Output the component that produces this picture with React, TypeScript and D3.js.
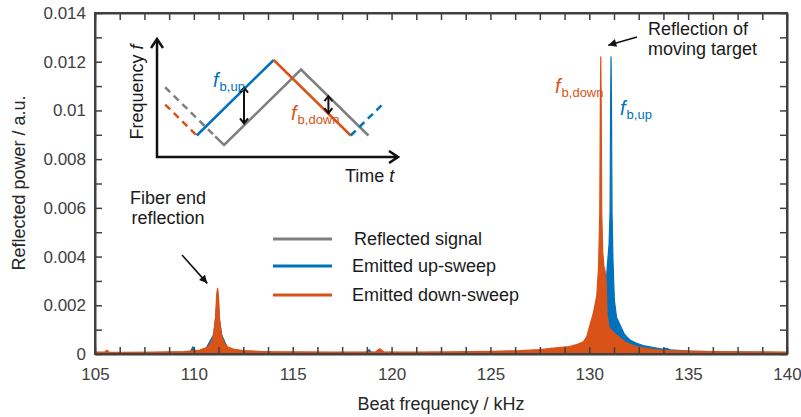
import React, { useEffect, useRef } from 'react';
import * as d3 from 'd3';

// axis ticks
const freqTicks = [105, 110, 115, 120, 125, 130, 135, 140];
const powerTicks = [0, 0.002, 0.004, 0.006, 0.008, 0.01, 0.012, 0.014];

// emitted down-sweep spectrum (orange)
const downFreq = [105, 105.5, 105.6, 105.7, 106.5, 108, 109.5, 110.3, 110.7, 110.9, 111.0, 111.1, 111.15, 111.2, 111.25, 111.3, 111.4, 111.5, 111.7, 112, 112.5, 113.5, 115, 117, 119.2, 119.4, 119.6, 121, 123, 125, 126.5, 127.5, 128.3, 129, 129.4, 129.7, 129.87, 130.04, 130.21, 130.38, 130.47, 130.53, 130.56, 130.58, 130.6, 130.63, 130.68, 130.74, 130.8, 130.85, 130.9, 131.0, 131.2, 131.5, 131.8, 132.2, 132.7, 133.3, 134, 135.5, 137.5, 140];
const downPower = [0.00008, 0.00008, 0.00016, 0.00008, 0.00007, 0.00008, 0.0001, 0.00016, 0.00028, 0.0005, 0.0008, 0.0015, 0.0024, 0.0027, 0.0023, 0.0014, 0.0008, 0.0005, 0.0003, 0.0002, 0.00014, 0.0001, 0.00009, 0.00008, 0.00009, 0.00022, 0.00009, 0.00008, 0.00009, 0.00011, 0.00014, 0.00018, 0.00025, 0.0003, 0.0004, 0.0005, 0.0007, 0.0012, 0.0017, 0.0024, 0.0036, 0.0058, 0.0105, 0.0122, 0.0105, 0.0058, 0.0042, 0.0036, 0.0034, 0.003, 0.0016, 0.0011, 0.0009, 0.0007, 0.0005, 0.00035, 0.00025, 0.00018, 0.00014, 0.00011, 0.00009, 0.00008];

// emitted up-sweep spectrum (blue)
const upFreq = [105, 106, 108, 109.8, 109.95, 110.05, 110.6, 111.0, 111.1, 111.2, 111.3, 111.4, 111.7, 112, 114, 118.7, 118.86, 119.0, 122, 126, 128, 129.5, 130.2, 130.35, 130.42, 130.5, 130.6, 130.75, 130.8, 130.9, 131.0, 131.05, 131.08, 131.1, 131.12, 131.15, 131.2, 131.27, 131.38, 131.55, 131.75, 131.9, 132.1, 132.4, 132.8, 133.2, 133.7, 133.9, 134.1, 135, 136.5, 138, 140];
const upPower = [0.00005, 0.00005, 0.00006, 0.00006, 0.0003, 0.00006, 0.0002, 0.0008, 0.0015, 0.0026, 0.0014, 0.0008, 0.00025, 0.00012, 0.00007, 0.00006, 0.00018, 0.00006, 0.00005, 0.00006, 0.00007, 0.00009, 0.00015, 0.0003, 0.0009, 0.0008, 0.0009, 0.0012, 0.002, 0.0035, 0.0045, 0.0058, 0.0105, 0.0122, 0.0105, 0.0058, 0.0038, 0.0022, 0.0015, 0.0012, 0.00085, 0.0007, 0.00055, 0.00044, 0.00033, 0.00027, 0.0002, 0.00023, 0.00017, 0.00012, 0.00009, 0.00007, 0.00006];

// legend
const legendLabels = ['Reflected signal', 'Emitted up-sweep', 'Emitted down-sweep'];
const legendColors = ['#7f7f7f', '#0072bd', '#d95319'];

// inset schematic (time / frequency in arbitrary units)
const upSolidT = [0, 1];
const upSolidF = [0, 1];
const downSolidT = [1, 2];
const downSolidF = [1, 0];
const downDashT = [-0.41, 0];
const downDashF = [0.41, 0];
const upDashT = [2, 2.4];
const upDashF = [0, 0.4];
const reflDashT = [-0.41, 0.24];
const reflDashF = [0.639, -0.011];
const reflSolidT = [0.24, 0.355, 1.355, 2.23];
const reflSolidF = [-0.011, -0.126, 0.874, 0.0];

const FONT = '"Liberation Sans", Arial, Helvetica, sans-serif';

const App = () => {
    const svgRef = useRef<SVGSVGElement>(null);

    useEffect(() => {
        const svg = d3.select(svgRef.current);
        svg.selectAll('*').remove();

        const x = d3.scaleLinear().domain([105, 140]).range([95, 787]);
        const y = d3.scaleLinear().domain([0, 0.014]).range([354, 13]);

        const defs = svg.append('defs');
        defs.append('marker')
            .attr('id', 'tri')
            .attr('markerUnits', 'userSpaceOnUse')
            .attr('viewBox', '0 0 10 10')
            .attr('refX', 10).attr('refY', 5)
            .attr('markerWidth', 9).attr('markerHeight', 8)
            .attr('orient', 'auto')
            .append('path').attr('d', 'M0,0 L10,5 L0,10 Z').attr('fill', '#111');
        defs.append('marker')
            .attr('id', 'chev')
            .attr('markerUnits', 'userSpaceOnUse')
            .attr('viewBox', '-12 -7 14 14')
            .attr('refX', 0).attr('refY', 0)
            .attr('markerWidth', 14).attr('markerHeight', 14)
            .attr('orient', 'auto-start-reverse')
            .append('path').attr('d', 'M-9,-6 L0,0 L-9,6')
            .attr('fill', 'none').attr('stroke', '#111').attr('stroke-width', 2.5);
        defs.append('marker')
            .attr('id', 'chevs')
            .attr('markerUnits', 'userSpaceOnUse')
            .attr('viewBox', '-8 -5 10 10')
            .attr('refX', 0).attr('refY', 0)
            .attr('markerWidth', 10).attr('markerHeight', 10)
            .attr('orient', 'auto-start-reverse')
            .append('path').attr('d', 'M-5,-4 L0,0 L-5,4')
            .attr('fill', 'none').attr('stroke', '#111').attr('stroke-width', 2);

        // spectra: up-sweep under down-sweep
        const series = [
            { f: upFreq, p: upPower, color: '#0072bd' },
            { f: downFreq, p: downPower, color: '#d95319' },
        ];
        series.forEach(s => {
            const area = d3.area<number>()
                .x((_, i) => x(s.f[i]))
                .y0(y(0))
                .y1(d => y(d));
            svg.append('path')
                .datum(s.p)
                .attr('d', area)
                .attr('fill', s.color)
                .attr('stroke', s.color)
                .attr('stroke-width', 1.2)
                .attr('stroke-linejoin', 'round');
        });

        // axes
        const xMinor = d3.range(105, 140.001, 1.25);
        const yMinor = d3.range(0, 15).map(i => i * 0.001);
        const axisColor = '#404040';
        const styleAxis = (g: any) => {
            g.select('.domain').attr('stroke', axisColor).attr('stroke-width', 2);
            g.selectAll('.tick line').attr('stroke', axisColor).attr('stroke-width', 1.5);
            g.selectAll('.tick text')
                .attr('fill', axisColor)
                .style('font-size', '17px')
                .style('font-family', FONT);
        };

        svg.append('g')
            .attr('transform', 'translate(0,354)')
            .call(d3.axisBottom(x).tickValues(xMinor).tickSize(-7).tickSizeOuter(0).tickPadding(14)
                .tickFormat(d => (freqTicks.includes(+d) ? String(d) : '')))
            .call(styleAxis);
        svg.append('g')
            .attr('transform', 'translate(0,13)')
            .call(d3.axisTop(x).tickValues(xMinor).tickSize(-7).tickSizeOuter(0).tickFormat(() => ''))
            .call(styleAxis);
        svg.append('g')
            .attr('transform', 'translate(95,0)')
            .call(d3.axisLeft(y).tickValues(yMinor).tickSize(-7).tickSizeOuter(0).tickPadding(9)
                .tickFormat(d => {
                    const v = +(+d).toFixed(3);
                    return powerTicks.includes(v) ? String(v) : '';
                }))
            .call(styleAxis);
        svg.append('g')
            .attr('transform', 'translate(787,0)')
            .call(d3.axisRight(y).tickValues(yMinor).tickSize(-7).tickSizeOuter(0).tickFormat(() => ''))
            .call(styleAxis);
        svg.append('rect')
            .attr('x', 95).attr('y', 13).attr('width', 692).attr('height', 341)
            .attr('fill', 'none').attr('stroke', axisColor).attr('stroke-width', 2);

        // axis labels
        svg.append('text')
            .attr('x', 441).attr('y', 410)
            .attr('text-anchor', 'middle')
            .attr('fill', '#262626')
            .style('font-size', '18px')
            .text('Beat frequency / kHz');
        svg.append('text')
            .attr('transform', 'translate(25,183) rotate(-90)')
            .attr('text-anchor', 'middle')
            .attr('fill', '#262626')
            .style('font-size', '18px')
            .text('Reflected power / a.u.');

        // legend
        const leg = svg.append('g');
        legendLabels.forEach((label, i) => {
            const yy = [239, 266, 295][i];
            leg.append('line')
                .attr('x1', 273).attr('x2', 332)
                .attr('y1', yy).attr('y2', yy)
                .attr('stroke', legendColors[i]).attr('stroke-width', 3);
            leg.append('text')
                .attr('x', i === 0 ? 354 : 352).attr('y', yy + 6)
                .attr('fill', '#1a1a1a')
                .style('font-size', '18px')
                .text(label);
        });

        // annotations
        const ann = svg.append('g').attr('fill', '#1a1a1a').style('font-size', '18px');
        ann.append('text').attr('x', 648).attr('y', 35).text('Reflection of');
        ann.append('text').attr('x', 648).attr('y', 55).text('moving target');
        ann.append('text').attr('x', 168).attr('y', 204).attr('text-anchor', 'middle').text('Fiber end');
        ann.append('text').attr('x', 168).attr('y', 224).attr('text-anchor', 'middle').text('reflection');

        svg.append('line')
            .attr('x1', 637).attr('y1', 37)
            .attr('x2', x(130.96)).attr('y2', y(0.01268))
            .attr('stroke', '#111').attr('stroke-width', 1.6)
            .attr('marker-end', 'url(#tri)');
        svg.append('line')
            .attr('x1', 182).attr('y1', 255)
            .attr('x2', x(110.68)).attr('y2', y(0.0029))
            .attr('stroke', '#111').attr('stroke-width', 1.6)
            .attr('marker-end', 'url(#tri)');

        const subLabel = (px: number, py: number, sub: string, color: string) => {
            const t = svg.append('text').attr('x', px).attr('y', py).attr('fill', color);
            t.append('tspan').style('font-style', 'italic').style('font-size', '20px').text('f');
            t.append('tspan').attr('dx', 1).attr('dy', 4).style('font-size', '13px').text(sub);
        };
        subLabel(555, 93, 'b,down', '#d95319');
        subLabel(620, 115, 'b,up', '#0072bd');

        // inset
        const ix = d3.scaleLinear().domain([-0.516, 2.614]).range([157, 398]);
        const iy = d3.scaleLinear().domain([-0.285, 1.278]).range([157, 39]);
        const iline = (T: number[], F: number[], color: string, dashed: boolean) => {
            const ln = d3.line<number>().x((_, i) => ix(T[i])).y(d => iy(d));
            svg.append('path')
                .datum(F)
                .attr('d', ln)
                .attr('fill', 'none')
                .attr('stroke', color)
                .attr('stroke-width', 2.5)
                .attr('stroke-dasharray', dashed ? '7,5' : null);
        };
        iline(reflDashT, reflDashF, '#7f7f7f', true);
        iline(reflSolidT, reflSolidF, '#7f7f7f', false);
        iline(downDashT, downDashF, '#d95319', true);
        iline(upSolidT, upSolidF, '#0072bd', false);
        iline(downSolidT, downSolidF, '#d95319', false);
        iline(upDashT, upDashF, '#0072bd', true);

        // inset axes
        svg.append('path')
            .attr('d', `M${ix(-0.516)},${iy(1.278)} L${ix(-0.516)},${iy(-0.285)} L${ix(2.614)},${iy(-0.285)}`)
            .attr('fill', 'none').attr('stroke', '#111').attr('stroke-width', 2.5)
            .attr('marker-start', 'url(#chev)').attr('marker-end', 'url(#chev)');

        // beat frequency arrows
        [[0.614, 0.635, 0.16], [1.71, 0.52, 0.295]].forEach(([t, f1, f2]) => {
            svg.append('line')
                .attr('x1', ix(t)).attr('x2', ix(t))
                .attr('y1', iy(f1)).attr('y2', iy(f2))
                .attr('stroke', '#111').attr('stroke-width', 2)
                .attr('marker-start', 'url(#chevs)').attr('marker-end', 'url(#chevs)');
        });

        subLabel(213, 87, 'b,up', '#0072bd');
        subLabel(291, 120, 'b,down', '#d95319');

        const ft = svg.append('text')
            .attr('transform', 'translate(143,92) rotate(-90)')
            .attr('text-anchor', 'middle')
            .attr('fill', '#1a1a1a')
            .style('font-size', '18px');
        ft.append('tspan').text('Frequency ');
        ft.append('tspan').style('font-style', 'italic').text('f');

        const tt = svg.append('text')
            .attr('x', 345).attr('y', 182)
            .attr('fill', '#1a1a1a')
            .style('font-size', '18px');
        tt.append('tspan').text('Time ');
        tt.append('tspan').style('font-style', 'italic').text('t');
    }, []);

    return (
        <svg
            ref={svgRef}
            width={801}
            height={417}
            style={{ position: 'absolute', left: 0, top: 0, background: '#fff', fontFamily: FONT }}
        />
    );
};

export default App;
